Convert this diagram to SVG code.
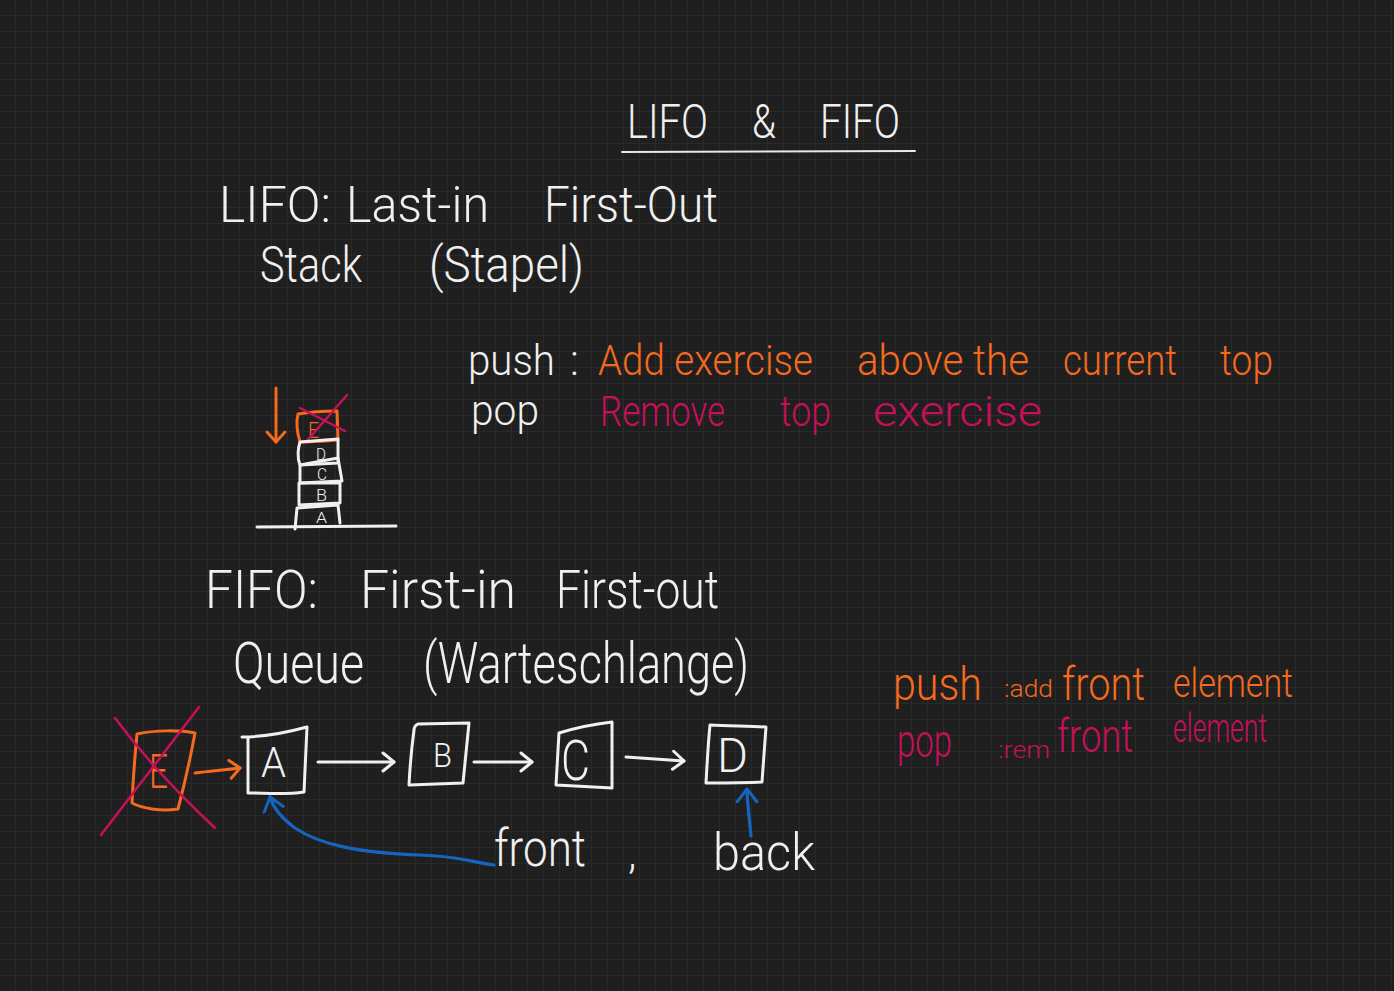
<svg xmlns="http://www.w3.org/2000/svg" width="1394" height="991" viewBox="0 0 1394 991">
<defs>
<pattern id="grid" width="16" height="16" patternUnits="userSpaceOnUse">
<rect width="16" height="16" fill="#1f1f1f"/>
<path d="M15.5,0 V16 M0,15.5 H16" stroke="#2a2a2a" stroke-width="1.2" fill="none"/>
</pattern>
<marker id="aw" viewBox="-14 -12 16 24" markerWidth="16" markerHeight="24" refX="0" refY="0" orient="auto" markerUnits="userSpaceOnUse">
<path d="M-11,-9 L0,0 L-11,9" fill="none" stroke="#f0f0f0" stroke-width="3" stroke-linecap="round" stroke-linejoin="round"/>
</marker>
<marker id="ao" viewBox="-14 -12 16 24" markerWidth="16" markerHeight="24" refX="0" refY="0" orient="auto" markerUnits="userSpaceOnUse">
<path d="M-10,-9 L0,0 L-10,9" fill="none" stroke="#f46a1f" stroke-width="3" stroke-linecap="round" stroke-linejoin="round"/>
</marker>
<marker id="ab" viewBox="-14 -12 16 24" markerWidth="16" markerHeight="24" refX="0" refY="0" orient="auto" markerUnits="userSpaceOnUse">
<path d="M-13,-10 L0,0 L-13,10" fill="none" stroke="#1565c0" stroke-width="3" stroke-linecap="round" stroke-linejoin="round"/>
</marker>
</defs>
<style>
.h{font-family:Roboto,"Liberation Sans",sans-serif;font-weight:300}
.w{fill:#f0f0f0}
.o{fill:#f46a1f}
.r{fill:#c8105a}
.sw{fill:none;stroke:#f0f0f0;stroke-width:3;stroke-linecap:round;stroke-linejoin:round}
.so{fill:none;stroke:#f46a1f;stroke-width:3;stroke-linecap:round;stroke-linejoin:round}
.sr{fill:none;stroke:#c8105a;stroke-width:2.5;stroke-linecap:round}
.sb{fill:none;stroke:#1565c0;stroke-width:3.2;stroke-linecap:round;stroke-linejoin:round}
</style>
<rect width="1394" height="991" fill="url(#grid)"/>

<g id="title">
<text class="h w" font-size="48" y="138"><tspan x="627" textLength="81" lengthAdjust="spacingAndGlyphs">LIFO</tspan> <tspan x="752" textLength="24" lengthAdjust="spacingAndGlyphs">&amp;</tspan> <tspan x="820" textLength="80" lengthAdjust="spacingAndGlyphs">FIFO</tspan></text>
<path d="M622,152 L915,151" stroke="#e8e8e8" stroke-width="2" fill="none" stroke-linecap="round"/>
</g>

<g id="lifo-text">
<text class="h w" font-size="50" y="222"><tspan x="219" textLength="112" lengthAdjust="spacingAndGlyphs">LIFO:</tspan> <tspan x="346" textLength="143" lengthAdjust="spacingAndGlyphs">Last-in</tspan> <tspan x="544" textLength="174" lengthAdjust="spacingAndGlyphs">First-Out</tspan></text>
<text class="h w" font-size="50" y="282"><tspan x="260" textLength="102" lengthAdjust="spacingAndGlyphs">Stack</tspan> <tspan x="429" textLength="155" lengthAdjust="spacingAndGlyphs">(Stapel)</tspan></text>
</g>

<g id="stack-ops">
<text class="h w" font-size="42" y="375"><tspan x="468" textLength="87" lengthAdjust="spacingAndGlyphs">push</tspan><tspan x="570">:</tspan></text>
<text class="h o" font-size="42" y="375"><tspan x="598" textLength="215" lengthAdjust="spacingAndGlyphs">Add exercise</tspan> <tspan x="857" textLength="172" lengthAdjust="spacingAndGlyphs">above the</tspan> <tspan x="1063" textLength="114" lengthAdjust="spacingAndGlyphs">current</tspan> <tspan x="1220" textLength="53" lengthAdjust="spacingAndGlyphs">top</tspan></text>
<text class="h w" font-size="42" y="425"><tspan x="471" textLength="68" lengthAdjust="spacingAndGlyphs">pop</tspan></text>
<text class="h r" font-size="42" y="426"><tspan x="600" textLength="125" lengthAdjust="spacingAndGlyphs">Remove</tspan> <tspan x="780" textLength="51" lengthAdjust="spacingAndGlyphs">top</tspan> <tspan x="873" textLength="169" lengthAdjust="spacingAndGlyphs">exercise</tspan></text>
</g>

<g id="stack">
<g id="stack-E">
<path class="so" d="M298,414 C310,412 325,411 337,411 L338,440 C325,441 312,442 300,442 C297,432 296,422 298,414 Z"/>
<text class="h o" font-size="22" x="308" y="438" textLength="11" lengthAdjust="spacingAndGlyphs">E</text>
<path class="sr" d="M347,395 L305,443 M300,408 L345,431"/>
</g>
<g id="stack-D">
<path class="sw" d="M300,442 L338,439 L338,463 L300,465 C297,458 298,448 300,442"/>
<text class="h w" font-size="16" x="316" y="460" textLength="10" lengthAdjust="spacingAndGlyphs">D</text>
</g>
<g id="stack-C">
<path class="sw" d="M300,465 L338,458 L342,481 L300,483 Z"/>
<text class="h w" font-size="16" x="317" y="480" textLength="10" lengthAdjust="spacingAndGlyphs">C</text>
</g>
<g id="stack-B">
<path class="sw" d="M299,483 L340,483 L340,503 L299,505 Z"/>
<text class="h w" font-size="16" x="316" y="501" textLength="11" lengthAdjust="spacingAndGlyphs">B</text>
</g>
<g id="stack-A">
<path class="sw" d="M297,508 L338,505 L340,523 M297,508 L295,529"/>
<text class="h w" font-size="15" x="316" y="523" textLength="11" lengthAdjust="spacingAndGlyphs">A</text>
</g>
<path class="sw" d="M257,527 L396,526" stroke-width="2.5"/>
</g>

<g id="fifo-text">
<text class="h w" font-size="54" y="608"><tspan x="205" textLength="113" lengthAdjust="spacingAndGlyphs">FIFO:</tspan> <tspan x="360" textLength="156" lengthAdjust="spacingAndGlyphs">First-in</tspan> <tspan x="556" textLength="163" lengthAdjust="spacingAndGlyphs">First-out</tspan></text>
<text class="h w" font-size="58" y="683"><tspan x="233" textLength="131" lengthAdjust="spacingAndGlyphs">Queue</tspan> <tspan x="423" textLength="326" lengthAdjust="spacingAndGlyphs">(Warteschlange)</tspan></text>
</g>

<g id="queue-E">
<path class="so" d="M137,734 C155,730 180,730 195,733 C190,760 183,790 178,809 C160,812 142,808 132,803 C133,780 135,755 137,734 Z"/>
<text class="h o" font-size="48" x="149" y="788" textLength="19" lengthAdjust="spacingAndGlyphs">E</text>
<path class="sr" d="M101,835 C135,790 170,745 199,707 M115,718 C150,765 185,800 215,828"/>
</g>
<g id="queue-A">
<path class="sw" d="M242,737 C260,737 285,733 307,727 L304,792 C285,795 265,793 248,793 L248,737"/>
<text class="h w" font-size="42" x="261" y="777" textLength="25" lengthAdjust="spacingAndGlyphs">A</text>
</g>
<g id="queue-B">
<path class="sw" d="M418,724 L469,723 L463,783 L409,785 C410,765 412,745 414,730 C414,727 416,725 418,724 Z"/>
<text class="h w" font-size="34" x="433" y="767" textLength="19" lengthAdjust="spacingAndGlyphs">B</text>
</g>
<g id="queue-C">
<path class="sw" d="M559,733 C575,728 595,724 612,722 L612,788 C595,787 575,786 556,785 C557,765 558,748 559,733 Z"/>
<text class="h w" font-size="56" x="561" y="780" textLength="29" lengthAdjust="spacingAndGlyphs">C</text>
</g>
<g id="queue-D">
<path class="sw" d="M710,725 C730,726 750,726 766,727 L762,782 C745,783 725,783 706,783 C707,765 708,745 710,725 Z"/>
<text class="h w" font-size="48" x="717" y="772" textLength="31" lengthAdjust="spacingAndGlyphs">D</text>
</g>

<g id="labels">
<text class="h w" font-size="52" x="494" y="866" textLength="92" lengthAdjust="spacingAndGlyphs">front</text>
<text class="h w" font-size="44" x="628" y="868">,</text>
<text class="h w" font-size="52" x="713" y="870" textLength="102" lengthAdjust="spacingAndGlyphs">back</text>
</g>

<g id="fifo-ops">
<text class="h o" y="700"><tspan x="893" font-size="46" textLength="89" lengthAdjust="spacingAndGlyphs">push</tspan> <tspan x="1004" y="697" font-size="24" textLength="49" lengthAdjust="spacingAndGlyphs">:add</tspan> <tspan x="1062" y="700" font-size="46" textLength="83" lengthAdjust="spacingAndGlyphs">front</tspan> <tspan x="1173" y="697" font-size="40" textLength="120" lengthAdjust="spacingAndGlyphs">element</tspan></text>
<text class="h r" y="757"><tspan x="897" font-size="46" textLength="55" lengthAdjust="spacingAndGlyphs">pop</tspan> <tspan x="998" y="758" font-size="24" textLength="52" lengthAdjust="spacingAndGlyphs">:rem</tspan> <tspan x="1057" y="752" font-size="46" textLength="76" lengthAdjust="spacingAndGlyphs">front</tspan> <tspan x="1173" y="742" font-size="40" textLength="94" lengthAdjust="spacingAndGlyphs">element</tspan></text>
</g>

<g id="connectors">
<path class="so" d="M276,388 L276,442" marker-end="url(#ao)"/>
<path class="so" d="M195,773 C210,771 225,770 240,768" marker-end="url(#ao)"/>
<path class="sw" d="M318,762 L394,762" marker-end="url(#aw)"/>
<path class="sw" d="M474,762 L532,762" marker-end="url(#aw)"/>
<path class="sw" d="M626,757 L684,761" marker-end="url(#aw)"/>
<path class="sb" d="M494,865 C470,862 460,856 420,855 C360,853 320,845 295,828 C280,817 273,807 270,797" marker-end="url(#ab)"/>
<path class="sb" d="M751,836 C749,815 747,800 747,789" marker-end="url(#ab)"/>
</g>
</svg>
